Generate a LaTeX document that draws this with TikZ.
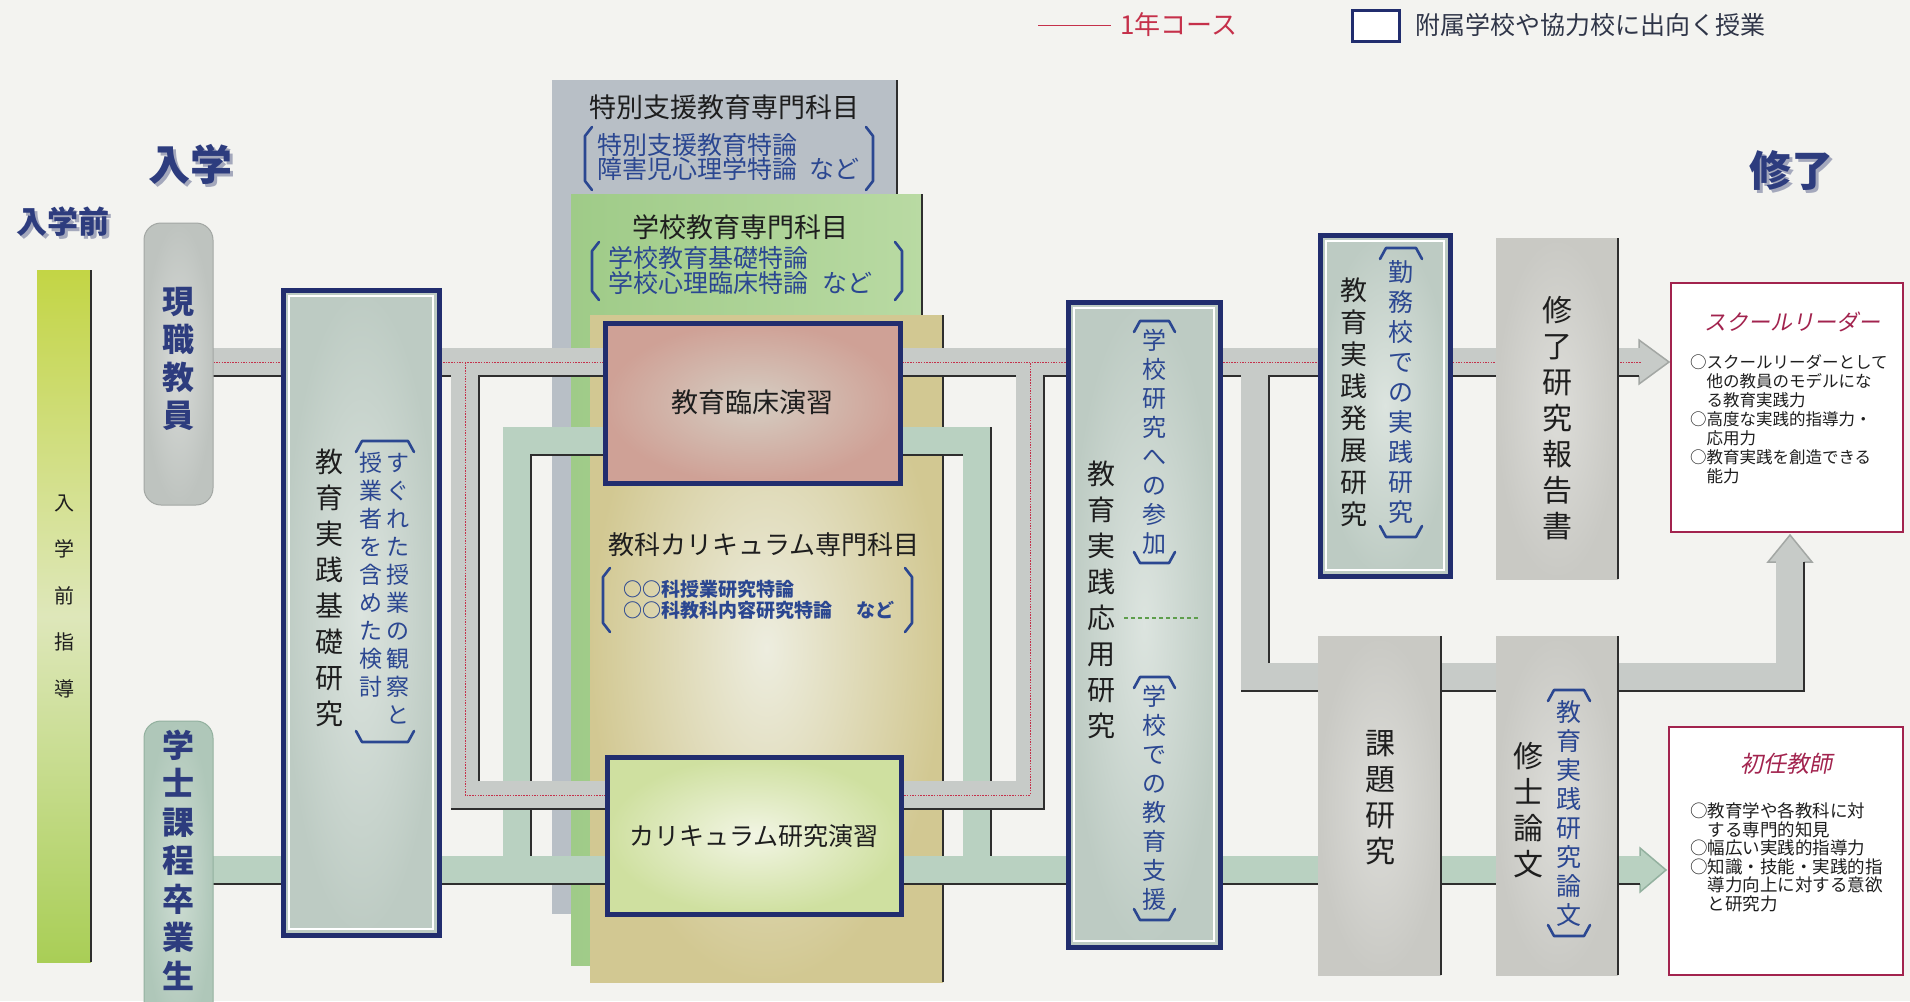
\documentclass[tikz,border=0pt]{standalone}
\usepackage{fontspec}
\setmainfont{Noto Sans CJK JP}
\newfontfamily\jpit{Noto Sans CJK JP}[FakeSlant=0.2]
\usetikzlibrary{calc}
\newcommand\jfs[2]{\fontsize{#1}{#2}\selectfont}
\definecolor{bg}{HTML}{F3F3F0}
\definecolor{navy}{HTML}{212D6E}
\definecolor{brkc}{HTML}{2B4791}
\definecolor{headc}{HTML}{2D3C7E}
\definecolor{heads}{HTML}{A4A8BC}
\definecolor{txtd}{HTML}{1E1E1E}
\definecolor{pg}{HTML}{C7CBC8}
\definecolor{pgd}{HTML}{A3A7A4}
\definecolor{pgr}{HTML}{B9D1C1}
\definecolor{pgrd}{HTML}{93B19F}
\definecolor{redc}{HTML}{C5304A}
\definecolor{edgec}{HTML}{2E2E2E}
\definecolor{yga}{HTML}{C3D545}
\definecolor{ygb}{HTML}{DEE7BA}
\definecolor{ygc}{HTML}{A9CE56}
\definecolor{panA}{HTML}{B8BFC6}
\definecolor{panBa}{HTML}{9FCB88}
\definecolor{panBb}{HTML}{B9DAA3}
\definecolor{panCi}{HTML}{EDEDDF}
\definecolor{panCo}{HTML}{D2C892}
\definecolor{boxI}{HTML}{DCE4DF}
\definecolor{boxO}{HTML}{BDCBC3}
\definecolor{rinI}{HTML}{D5CDC2}
\definecolor{rinO}{HTML}{CFA196}
\definecolor{curI}{HTML}{F2F5E4}
\definecolor{curO}{HTML}{CFE0A0}
\definecolor{grI}{HTML}{DDDDD9}
\definecolor{grO}{HTML}{C9C9C4}
\definecolor{gsI}{HTML}{D8DBD8}
\definecolor{gsO}{HTML}{BEC3BF}
\definecolor{gkI}{HTML}{CEDDD3}
\definecolor{gkO}{HTML}{AFC7B9}
\definecolor{wine}{HTML}{A2234E}
\definecolor{dashg}{HTML}{5E9E4C}
\definecolor{legt}{HTML}{2F3548}
\begin{document}
\begin{tikzpicture}[x=1pt,y=-1pt,
  every node/.style={inner sep=0pt, outer sep=0pt},
  vt/.style={align=center},
  navybox/.style={draw=navy, line width=5pt, anchor=north west},
  graybox/.style={anchor=north west, inner color=grI, outer color=grO},
  panel/.style={anchor=north west},
  pipeG/.style={line width=28pt, color=pgr, line join=miter},
  pipeY/.style={line width=28pt, color=pg, line join=miter},
  shadowline/.style={line width=1.3pt, color=edgec},
  onepath/.style={line width=1pt, color=redc, dash pattern=on 1.5pt off 1.2pt},
  brk/.style={line width=2.6pt, color=brkc, line cap=round, line join=round},
  edgeline/.style={line width=1.3pt, color=edgec},
  innerline/.style={white, line width=1.3pt},
  headtip/.style={line width=1.5pt, line join=miter},
  head/.style={text=headc, font=\bfseries\jfs{#1}{#1}},
  headsh/.style={text=heads, font=\bfseries\jfs{#1}{#1}},
]
\useasboundingbox (0,0) rectangle (1910,1001);
\clip (0,0) rectangle (1910,1001);
\fill[bg] (0,0) rectangle (1910,1001);

% ---------- legend
\coordinate (lgA) at (1038,25);
\coordinate (lgB) at (1111,25);
\draw[redc, line width=0.9pt] (lgA) -- (lgB);
\node[anchor=west, text=redc, font=\jfs{26}{26}] (lgtA) at (1120,25) {1年コース};
\node[draw=navy, line width=3.5pt, fill=white, minimum width=47, minimum height=31] (lgbox) at (1376,26) {};
\node[anchor=west, text=legt, font=\jfs{25}{25}] (lgtB) at (1415,25) {附属学校や協力校に出向く授業};

% ---------- headings
\node[headsh=31] (hAs) at (66,225) {入学前};
\node[head=31] (hA) at (63,222) {入学前};
\node[headsh=42] (hBs) at (193,167) {入学};
\node[head=42] (hB) at (190,164) {入学};
\node[headsh=42] (hCs) at (1794,174) {修了};
\node[head=42] (hC) at (1791,171) {修了};

% ---------- pre-entry bar
\node[anchor=north west, minimum width=54, minimum height=347, top color=yga, bottom color=ygb] (barT) at (37,270) {};
\node[anchor=north west, minimum width=54, minimum height=346, top color=ygb, bottom color=ygc] (barL) at (37,616) {};
\draw[edgeline] (barT.north east) -- (barL.south east);
\node[vt, text=txtd, font=\jfs{20}{46.5}] (barTxt) at (64,596) {入\\学\\前\\指\\導};

% ---------- panels
\node[panel, fill=panA, minimum width=345, minimum height=834] (pA) at (552,80) {};
\draw[edgeline] (pA.north east) -- (pA.south east);
\node[panel, left color=panBa, right color=panBb, minimum width=351, minimum height=771] (pB) at (571,194) {};
\draw[edgeline] (pB.north east) -- (pB.south east);
\node[panel, inner color=panCi, outer color=panCo, minimum width=353, minimum height=667] (pC) at (590,315) {};
\draw[edgeline] (pC.north east) -- (pC.south east);

\node[text=txtd, font=\jfs{27}{27}] (pAt) at (724,107) {特別支援教育専門科目};
\node[anchor=west, align=left, text=brkc, font=\jfs{25}{23}] (pAs) at (597,157) {特別支援教育特論\\障害児心理学特論\hspace{12pt}など};
\draw[brk] (592,127) -- (585,136) -- (585,181) -- (592,190);
\draw[brk] (866,127) -- (873,136) -- (873,181) -- (866,190);

\node[text=txtd, font=\jfs{27}{27}] (pBt) at (740,227) {学校教育専門科目};
\node[anchor=west, align=left, text=brkc, font=\jfs{25}{25}] (pBs) at (608,270) {学校教育基礎特論\\学校心理臨床特論\hspace{14pt}など};
\draw[brk] (599,242) -- (592,251) -- (592,291) -- (599,300);
\draw[brk] (895,242) -- (902,251) -- (902,291) -- (895,300);

\node[text=txtd, font=\jfs{26}{26}] (pCt) at (764,545) {教科カリキュラム専門科目};
\node[anchor=west, align=left, text=brkc, font=\bfseries\jfs{19}{21}] (pCs) at (623,600) {○○科授業研究特論\\○○科教科内容研究特論\hspace{25pt}など};
\draw[brk] (610,568) -- (603,577) -- (603,623) -- (610,632);
\draw[brk] (905,568) -- (912,577) -- (912,623) -- (905,632);

% ---------- pipe waypoints
\coordinate (tS) at (200,362);
\coordinate (tE) at (1641,362);
\coordinate (tipT) at (1669,362);
\coordinate (lA) at (465,362);
\coordinate (lB) at (465,795);
\coordinate (lC) at (1030,795);
\coordinate (lD) at (1030,362);
\coordinate (rA) at (1255,362);
\coordinate (rB) at (1255,677);
\coordinate (rC) at (1790,677);
\coordinate (rD) at (1790,560);
\coordinate (tipU) at (1790,535);
\coordinate (gS) at (200,870);
\coordinate (gE) at (1642,870);
\coordinate (tipB) at (1666,870);
\coordinate (mA) at (517,870);
\coordinate (mB) at (517,441);
\coordinate (mC) at (977,441);
\coordinate (mD) at (977,870);

% green pipes
\draw[headtip, fill=pgr, draw=pgrd] ($(gE)+(-2,-22)$) -- (tipB) -- ($(gE)+(-2,22)$) -- cycle;
\draw[pipeG] (gS) -- (gE);
\draw[pipeG] (mA) -- (mB) -- (mC) -- (mD);
\draw[shadowline] ($(gS)+(0,14)$) -- ($(gE)+(-2,14)$);
\draw[shadowline] ($(mA)+(14,-14)$) -- ($(mB)+(14,14)$) -- ($(mC)+(-14,14)$);
\draw[shadowline] ($(mC)+(14,-14)$) -- ($(mD)+(14,-14)$);

% gray pipes
\draw[headtip, fill=pg, draw=pgd] ($(tE)+(-2,-22)$) -- (tipT) -- ($(tE)+(-2,22)$) -- cycle;
\draw[headtip, fill=pg, draw=pgd] ($(rD)+(-22,2)$) -- (tipU) -- ($(rD)+(22,2)$) -- cycle;
\draw[pipeY] (tS) -- (tE);
\draw[pipeY] (lA) -- (lB) -- (lC) -- (lD);
\draw[pipeY] (rA) -- (rB) -- (rC) -- (rD);
\draw[shadowline] ($(tS)+(0,14)$) -- ($(lA)+(-14,14)$);
\draw[shadowline] ($(lB)+(14,-14)$) -- ($(lA)+(14,14)$) -- ($(lD)+(-14,14)$);
\draw[shadowline] ($(lB)+(-14,14)$) -- ($(lC)+(14,14)$) -- ($(lD)+(14,14)$) -- ($(rA)+(-14,14)$);
\draw[shadowline] ($(rB)+(14,-14)$) -- ($(rA)+(14,14)$) -- ($(tE)+(-2,14)$);
\draw[shadowline] ($(rB)+(-14,14)$) -- ($(rC)+(14,14)$) -- ($(rD)+(14,2)$);
\draw[onepath] (tS) -- (tE);
\draw[onepath] (lA) -- (lB) -- (lC) -- (lD);

% ---------- entry boxes
\node[anchor=north west, minimum width=69, minimum height=282, rounded corners=17pt, inner color=gsI, outer color=gsO, draw=pgd, line width=1pt] (genshoku) at (144,223) {};
\node[vt, text=headc, font=\bfseries\jfs{32}{38}] (genshokuT) at (178,359) {現\\職\\教\\員};
\node[anchor=north west, minimum width=69, minimum height=320, rounded corners=17pt, inner color=gkI, outer color=gkO, draw=pgrd, line width=1pt] (gakushi) at (144,721) {};
\node[vt, text=headc, font=\bfseries\jfs{32}{38.5}] (gakushiT) at (178,860) {学\\士\\課\\程\\卒\\業\\生};

% ---------- 教育実践基礎研究
\node[navybox, minimum width=156, minimum height=645, inner color=boxI, outer color=boxO] (kiso) at (283,290) {};
\draw[innerline] ($(kiso.north west)+(6,6)$) rectangle ($(kiso.south east)+(-6,-6)$);
\node[vt, text=txtd, font=\jfs{28}{36}] (kisoT) at (329,588) {教\\育\\実\\践\\基\\礎\\研\\究};
\node[vt, text=brkc, font=\jfs{23}{28}] (kisoA) at (398,588.5) {す\\ぐ\\れ\\た\\授\\業\\の\\観\\察\\と};
\node[vt, text=brkc, font=\jfs{23}{28}] (kisoB) at (371,574.5) {授\\業\\者\\を\\含\\め\\た\\検\\討};
\draw[brk] (356,452) -- (362,441) -- (408,441) -- (414,452);
\draw[brk] (356,731) -- (362,742) -- (408,742) -- (414,731);

% ---------- 演習 boxes
\node[navybox, minimum width=295, minimum height=160, inner color=rinI, outer color=rinO] (rinsho) at (605,323) {};
\node[text=txtd, font=\jfs{27}{27}] (rinshoT) at (752,402) {教育臨床演習};
\node[navybox, minimum width=294, minimum height=157, inner color=curI, outer color=curO] (curri) at (607,757) {};
\node[text=txtd, font=\jfs{25}{25}] (curriT) at (754,836) {カリキュラム研究演習};

% ---------- 教育実践応用研究
\node[navybox, minimum width=152, minimum height=645, inner color=boxI, outer color=boxO] (oyo) at (1068,302) {};
\draw[innerline] ($(oyo.north west)+(6,6)$) rectangle ($(oyo.south east)+(-6,-6)$);
\node[vt, text=txtd, font=\jfs{28}{36}] (oyoT) at (1101,600) {教\\育\\実\\践\\応\\用\\研\\究};
\node[vt, text=brkc, font=\jfs{24}{29}] (oyoA) at (1154,442) {学\\校\\研\\究\\へ\\の\\参\\加};
\draw[brk] (1134,332) -- (1140,321) -- (1169,321) -- (1175,332);
\draw[brk] (1134,552) -- (1140,563) -- (1169,563) -- (1175,552);
\coordinate (dA) at (1124,618);
\coordinate (dB) at (1199,618);
\draw[dashg, line width=1.3pt, dash pattern=on 4pt off 3pt] (dA) -- (dB);
\node[vt, text=brkc, font=\jfs{24}{29}] (oyoB) at (1154,798) {学\\校\\で\\の\\教\\育\\支\\援};
\draw[brk] (1134,688) -- (1140,677) -- (1169,677) -- (1175,688);
\draw[brk] (1134,909) -- (1140,920) -- (1169,920) -- (1175,909);

% ---------- 教育実践発展研究
\node[navybox, minimum width=130, minimum height=341, inner color=boxI, outer color=boxO] (hatten) at (1320,235) {};
\draw[innerline] ($(hatten.north west)+(6,6)$) rectangle ($(hatten.south east)+(-6,-6)$);
\node[vt, text=txtd, font=\jfs{27}{32}] (hattenT) at (1354,402) {教\\育\\実\\践\\発\\展\\研\\究};
\node[vt, text=brkc, font=\jfs{25}{30}] (hattenA) at (1401,392) {勤\\務\\校\\で\\の\\実\\践\\研\\究};
\draw[brk] (1380,259) -- (1386,248) -- (1416,248) -- (1422,259);
\draw[brk] (1380,526) -- (1386,537) -- (1416,537) -- (1422,526);

% ---------- gray boxes
\node[graybox, minimum width=122, minimum height=341] (shuryo) at (1496,238) {};
\draw[edgeline] (shuryo.north east) -- (shuryo.south east);
\node[vt, text=txtd, font=\jfs{30}{36}] (shuryoT) at (1557,418) {修\\了\\研\\究\\報\\告\\書};
\node[graybox, minimum width=123, minimum height=339] (kadai) at (1318,636) {};
\draw[edgeline] (kadai.north east) -- (kadai.south east);
\node[vt, text=txtd, font=\jfs{30}{36}] (kadaiT) at (1380,798) {課\\題\\研\\究};
\node[graybox, minimum width=122, minimum height=339] (shushi) at (1496,636) {};
\draw[edgeline] (shushi.north east) -- (shushi.south east);
\node[vt, text=txtd, font=\jfs{30}{36}] (shushiT) at (1528,810) {修\\士\\論\\文};
\node[vt, text=brkc, font=\jfs{25}{29}] (shushiA) at (1569,813) {教\\育\\実\\践\\研\\究\\論\\文};
\draw[brk] (1548,701) -- (1554,690) -- (1584,690) -- (1590,701);
\draw[brk] (1548,925) -- (1554,936) -- (1584,936) -- (1590,925);

% ---------- outcome boxes
\node[anchor=north west, draw=wine, line width=2pt, fill=white, minimum width=232, minimum height=249] (leader) at (1671,283) {};
\node[text=wine, font=\jpit\jfs{22}{22}] (leaderT) at (1792,322) {スクールリーダー};
\node[anchor=north west, align=left, text=txtd, font=\jfs{16.5}{19}] (leaderB) at (1690,355) {○スクールリーダーとして\\　他の教員のモデルにな\\　る教育実践力\\○高度な実践的指導力・\\　応用力\\○教育実践を創造できる\\　能力};
\node[anchor=north west, draw=wine, line width=2pt, fill=white, minimum width=234, minimum height=248] (teacher) at (1669,727) {};
\node[text=wine, font=\jpit\jfs{23}{23}] (teacherT) at (1786,764) {初任教師};
\node[anchor=north west, align=left, text=txtd, font=\jfs{17.5}{18.5}] (teacherB) at (1690,803) {○教育学や各教科に対\\　する専門的知見\\○幅広い実践的指導力\\○知識・技能・実践的指\\　導力向上に対する意欲\\　と研究力};
\end{tikzpicture}
\end{document}
